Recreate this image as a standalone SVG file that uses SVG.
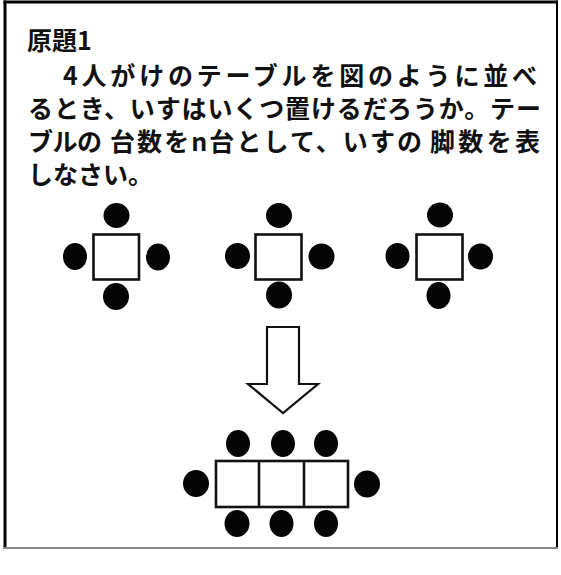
<svg xmlns="http://www.w3.org/2000/svg" width="561" height="575" viewBox="0 0 561 575">
<style>
.t{font-family:"Noto Sans CJK JP","Noto Sans CJK SC",sans-serif;font-weight:700;font-size:25px;fill:#111}
.tbl{fill:#fff;stroke:#111;stroke-width:2.6}
.ch{fill:#050505}
.arw{fill:#fff;stroke:#111;stroke-width:2.2;stroke-linejoin:miter}
</style>
<rect x="0" y="0" width="561" height="575" fill="#fff"/>
<g id="frame">
<line x1="5" y1="0.5" x2="5" y2="549" stroke="#000" stroke-width="3"/>
<line x1="3.5" y1="2" x2="558" y2="2" stroke="#000" stroke-width="3"/>
<line x1="557" y1="0.5" x2="557" y2="549" stroke="#000" stroke-width="2"/>
<line x1="3.5" y1="548" x2="558" y2="548" stroke="#888" stroke-width="2"/>
</g>
<g id="text">
<text class="t" x="27" y="50">原題1</text>
<text class="t" x="63" y="85" textLength="474" lengthAdjust="spacing">4人がけのテーブルを図のように並べ</text>
<text class="t" x="28" y="118" textLength="513" lengthAdjust="spacing">るとき、いすはいくつ置けるだろうか。テー</text>
<text class="t" y="151"><tspan x="28" textLength="74" lengthAdjust="spacing">ブルの</tspan><tspan x="110" textLength="312" lengthAdjust="spacing">台数をn台として、いすの</tspan><tspan x="430" textLength="110" lengthAdjust="spacing">脚数を表</tspan></text>
<text class="t" x="28" y="184" textLength="125" lengthAdjust="spacing">しなさい。</text>
</g>
<g id="table1">
<rect class="tbl" x="93.5" y="234.5" width="45.5" height="45"/>
<ellipse class="ch" cx="116.5" cy="215.5" rx="13" ry="12.5"/>
<ellipse class="ch" cx="116" cy="296.5" rx="13" ry="13.5"/>
<ellipse class="ch" cx="75" cy="256.5" rx="12" ry="13.5"/>
<ellipse class="ch" cx="158" cy="257" rx="12" ry="13.5"/>
</g>
<g id="table2">
<rect class="tbl" x="255.5" y="234.5" width="46" height="45"/>
<ellipse class="ch" cx="279" cy="215.5" rx="13" ry="12.5"/>
<ellipse class="ch" cx="279" cy="295" rx="13" ry="13.5"/>
<ellipse class="ch" cx="237.5" cy="256" rx="12.5" ry="13"/>
<ellipse class="ch" cx="321.5" cy="256.5" rx="13" ry="13"/>
</g>
<g id="table3">
<rect class="tbl" x="416.5" y="234.5" width="46" height="45"/>
<ellipse class="ch" cx="440" cy="215" rx="13" ry="12.5"/>
<ellipse class="ch" cx="438.5" cy="295.5" rx="12" ry="13.5"/>
<ellipse class="ch" cx="397.5" cy="256" rx="12" ry="13"/>
<ellipse class="ch" cx="480.5" cy="256.5" rx="12.5" ry="13"/>
</g>
<g id="connectors">
<g id="arrow">
<polygon class="arw" points="267,327 299,327 299,384 318,384 283,413 248,384 267,384"/>
</g>
</g>
<g id="longtable">
<rect class="tbl" x="216" y="461" width="132" height="46"/>
<line x1="259" y1="461" x2="259" y2="507" stroke="#111" stroke-width="2.6"/>
<line x1="304" y1="461" x2="304" y2="507" stroke="#111" stroke-width="2.6"/>
<ellipse class="ch" cx="238" cy="443.5" rx="12" ry="13.5"/>
<ellipse class="ch" cx="283" cy="443.5" rx="12" ry="13.5"/>
<ellipse class="ch" cx="326" cy="443.5" rx="12" ry="13.5"/>
<ellipse class="ch" cx="237" cy="523.5" rx="12.5" ry="13.5"/>
<ellipse class="ch" cx="281.5" cy="523.5" rx="12" ry="13.5"/>
<ellipse class="ch" cx="326" cy="523.5" rx="12" ry="13.5"/>
<ellipse class="ch" cx="196" cy="483.5" rx="13" ry="13.5"/>
<ellipse class="ch" cx="367" cy="484" rx="13" ry="13.5"/>
</g>
</svg>
